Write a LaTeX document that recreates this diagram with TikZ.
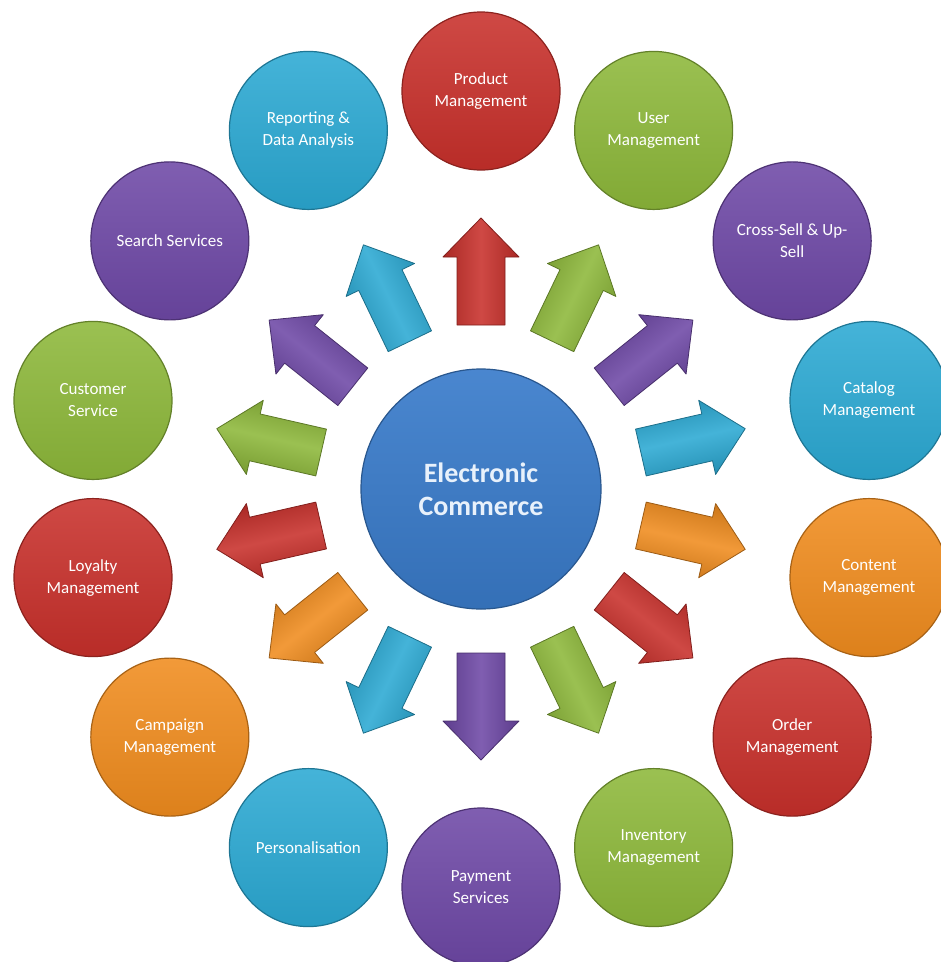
\documentclass[tikz,border=0pt]{standalone}
\usepackage{fontspec}
\setmainfont{Carlito}
\definecolor{cred}{HTML}{C8302B}
\definecolor{cgreen}{HTML}{8DB83A}
\definecolor{cpurple}{HTML}{6E48A6}
\definecolor{ccyan}{HTML}{2BA9D3}
\definecolor{corange}{HTML}{F08C1E}
\definecolor{cblue}{HTML}{3A7CCB}
\definecolor{hubtext}{HTML}{E8F1FB}
\tikzset{
  outer/.style={circle, minimum size=158pt, inner sep=0pt, align=center,
    text=white, font=\fontsize{17}{22}\selectfont,
    top color=#1!88!white, bottom color=#1!92!black,
    draw=#1!70!black, line width=1.2pt},
  hub/.style={circle, minimum size=240pt, inner sep=0pt, align=center,
    text=hubtext, font=\bfseries\fontsize{28}{33}\selectfont,
    top color=cblue!92!white, bottom color=cblue!90!black,
    draw=cblue!70!black, line width=1.2pt},
  blockarrow/.style={top color=#1!85!black, bottom color=#1!85!black,
    middle color=#1!88!white, draw=#1!65!black, line width=0.8pt,
    line join=round}
}
\begin{document}
\begin{tikzpicture}[x=1pt,y=1pt]
\clip (0,-962) rectangle (941,0);
\fill[white] (0,-962) rectangle (941,0);
\node[hub] (hub) at (481,-489) {Electronic\\Commerce};
\foreach \ang/\col/\nm/\txt in {
  90/cred/prod/{Product\\Management},
  115.71/ccyan/report/{Reporting \&\\Data Analysis},
  141.43/cpurple/search/{Search Services},
  167.14/cgreen/cust/{Customer\\Service},
  192.86/cred/loyal/{Loyalty\\Management},
  218.57/corange/camp/{Campaign\\Management},
  244.29/ccyan/pers/{Personalisation},
  270/cpurple/pay/{Payment\\Services},
  295.71/cgreen/inv/{Inventory\\Management},
  321.43/cred/order/{Order\\Management},
  347.14/corange/content/{Content\\Management},
  12.86/ccyan/catalog/{Catalog\\Management},
  38.57/cpurple/cross/{Cross-Sell \& Up-\\Sell},
  64.29/cgreen/user/{User\\Management}}{
  \node[outer=\col] (\nm) at ([shift={(\ang:398)}]hub.center) {\txt};
  \begin{scope}[shift={(hub.center)}, rotate=\ang]
    \shade[blockarrow=\col, shading angle=\ang] (164,-24) -- (232,-24)
      -- (232,-38) -- (271,0) -- (232,38) -- (232,24) -- (164,24) -- cycle;
  \end{scope}
}
\end{tikzpicture}
\end{document}
